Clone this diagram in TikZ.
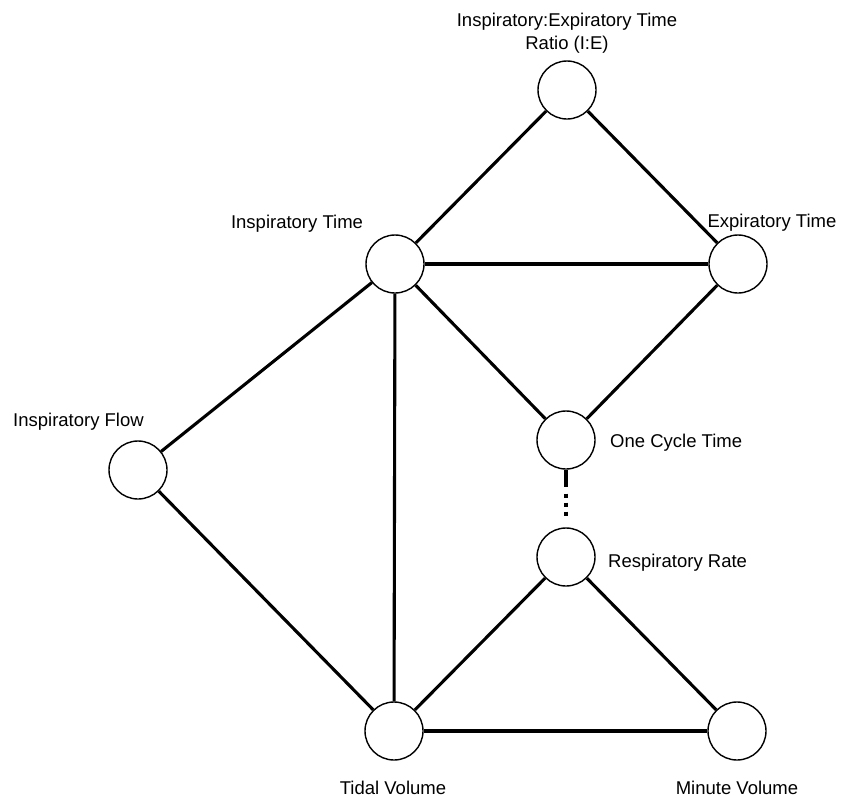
\documentclass[tikz,border=0pt]{standalone}
\usepackage{fontspec}
\setmainfont{Liberation Sans}
\begin{document}
\begin{tikzpicture}[x=1pt,y=-1pt,
  vert/.style={circle,draw=black,line width=1.4pt,minimum size=58pt,inner sep=0pt,fill=white},
  edge/.style={line width=3.1pt,black},
  dotedge/.style={line width=4.5pt,black,dash pattern={on 17pt off 7pt on 4pt off 5pt on 4pt off 5pt on 4pt off 100pt}},
  lbl/.style={font=\fontsize{18.5}{24}\selectfont,inner sep=0pt}]
\useasboundingbox (0,0) rectangle (841,798);
\fill[white] (0,0) rectangle (841,798);
% vertices
\node[vert] (IE) at (567,90) {};
\node[vert] (IT) at (395,264) {};
\node[vert] (ET) at (738,264) {};
\node[vert] (IF) at (138,470) {};
\node[vert] (OC) at (566,440) {};
\node[vert] (RR) at (566,557) {};
\node[vert] (TV) at (394,731) {};
\node[vert] (MV) at (737,731) {};
% edges
\draw[edge] (IE) -- (IT);
\draw[edge] (IE) -- (ET);
\draw[edge] (IT) -- (ET);
\draw[edge] (IT) -- (OC);
\draw[edge] (ET) -- (OC);
\draw[edge] (IT) -- (IF);
\draw[edge] (IT) -- (TV);
\draw[edge] (IF) -- (TV);
\draw[edge] (RR) -- (TV);
\draw[edge] (RR) -- (MV);
\draw[edge] (TV) -- (MV);
\draw[dotedge] (OC.south) -- (RR.north);
% labels
\node[lbl,anchor=base] (tIE1) at (567,26) {Inspiratory:Expiratory Time};
\node[lbl,anchor=base] (tIE2) at (567,49) {Ratio (I:E)};
\node[lbl,anchor=base] (tIT) at (297,228) {Inspiratory Time};
\node[lbl,anchor=base] (tET) at (772,227) {Expiratory Time};
\node[lbl,anchor=base west] (tIF) at (13,426) {Inspiratory Flow};
\node[lbl,anchor=base west] (tOC) at (610,447) {One Cycle Time};
\node[lbl,anchor=base west] (tRR) at (608,567) {Respiratory Rate};
\node[lbl,anchor=base] (tTV) at (393,794) {Tidal Volume};
\node[lbl,anchor=base] (tMV) at (737,794) {Minute Volume};
\end{tikzpicture}
\end{document}
